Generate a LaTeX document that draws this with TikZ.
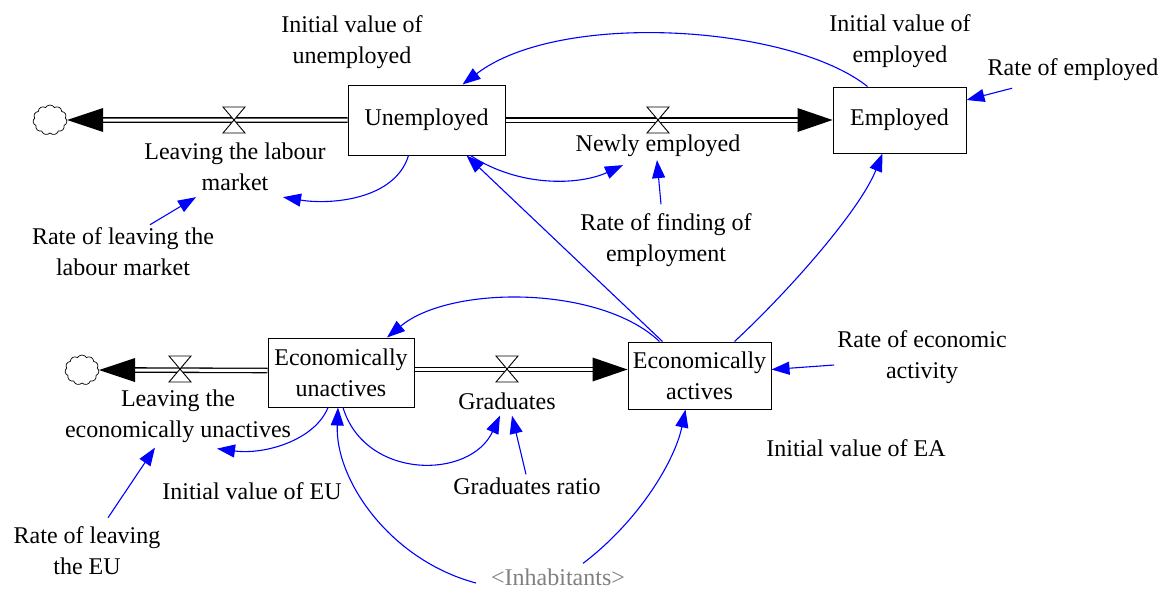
\documentclass[tikz,border=0pt]{standalone}
\usepackage{fontspec}
\setmainfont{Liberation Serif}
\usetikzlibrary{arrows.meta,shapes.symbols}

\tikzset{
  valve/.pic={\draw[fill=white, line width=0.9pt] (-11,-13)--(11,-13)--(-11,13)--(11,13)--cycle;},
}

\begin{document}
\begin{tikzpicture}[x=1pt,y=-1pt,
  font=\fontsize{24}{31}\selectfont,
  stock/.style={draw, line width=1pt, rectangle, inner sep=0pt, align=center},
  lbl/.style={align=center, inner sep=3pt},
  sink/.style={cloud, draw, cloud puffs=11, cloud puff arc=120, minimum width=34pt, minimum height=30pt, inner sep=0pt, line width=0.7pt},
  pipe/.style={double=white, double distance=3pt, line width=1.3pt},
  link/.style={blue, line width=1.1pt, -{Triangle[length=18pt,width=13pt]}}]
  \useasboundingbox (0,0) rectangle (1172,592);

  % stocks
  \node[stock, minimum width=157pt, minimum height=70pt] (unemp) at (426.5,120) {Unemployed};
  \node[stock, minimum width=133pt, minimum height=66pt] (emp) at (899.5,120) {Employed};
  \node[stock, minimum width=146pt, minimum height=69pt] (unact) at (341,372.5) {Economically\\unactives};
  \node[stock, minimum width=143pt, minimum height=67pt] (act) at (699.5,375.5) {Economically\\actives};

  \node[sink] (sinkU) at (50,120) {};
  \node[sink] (sinkA) at (82,370) {};

  % flows
  \draw[pipe] (unemp.west) -- ([xshift=36pt]sinkU.east);
  \fill (sinkU.east) -- ++(36,-12) -- ++(0,24) -- cycle;
  \draw[pipe] (unemp.east) -- ([xshift=-34pt]emp.west);
  \fill (emp.west) -- ++(-35,-12) -- ++(0,24) -- cycle;
  \draw[pipe] ([yshift=2pt]unact.west) -- ([xshift=36pt]sinkA.east);
  \fill (sinkA.east) -- ++(36,-12) -- ++(0,24) -- cycle;
  \coordinate (tipA) at ([yshift=6pt]act.west);
  \draw[pipe] (unact.east |- tipA) -- ([xshift=-34pt]tipA);
  \fill (tipA) -- ++(-35,-12) -- ++(0,24) -- cycle;

  \pic at (234,120) {valve};
  \pic at (658,120) {valve};
  \pic at (180,369) {valve};
  \pic at (507,369) {valve};

  \node[lbl] (leavelab) at (235,167) {Leaving the labour\\market};
  \node[lbl] (newemp) at (658,146) {Newly employed};
  \node[lbl] (leaveeu) at (178,416) {Leaving the\\economically unactives};
  \node[lbl] (grad) at (507,401) {Graduates};

  % auxiliaries
  \node[lbl] (initu) at (352,42) {Initial value of\\unemployed};
  \node[lbl] (inite) at (900,41) {Initial value of\\employed};
  \node[lbl] (rateemp) at (1073,70) {Rate of employed};
  \node[lbl] (rateleave) at (123,252) {Rate of leaving the\\labour market};
  \node[lbl] (ratefind) at (666,240) {Rate of finding of\\employment};
  \node[lbl] (rateact) at (922,357) {Rate of economic\\activity};
  \node[lbl] (initea) at (856,448) {Initial value of EA};
  \node[lbl] (initeu) at (252,491) {Initial value of EU};
  \node[lbl] (gradratio) at (527,486) {Graduates ratio};
  \node[lbl] (rateeu) at (87,551) {Rate of leaving\\the EU};
  \node[lbl, gray] (inhab) at (558,577) {<Inhabitants>};

  % links
  \draw[link] ([xshift=-32pt]emp.north) .. controls (790,25) and (560,10) .. ([xshift=36pt]unemp.north);
  \draw[link] ([xshift=-61pt,yshift=-4pt]rateemp.south) -- ([yshift=20pt]emp.east);
  \draw[link] ([xshift=-18pt]unemp.south) .. controls (395,200) and (330,205) .. ([xshift=48pt,yshift=-3pt]leavelab.south);
  \draw[link] ([xshift=44pt]unemp.south) .. controls (520,188) and (580,185) .. ([xshift=-35pt,yshift=-5pt]newemp.south);
  \draw[link] ([xshift=-5pt,yshift=6pt]ratefind.north) -- ([xshift=-1pt]newemp.south);
  \draw[link] ([xshift=27pt]rateleave.north) -- ([xshift=-39pt,yshift=-3pt]leavelab.south);
  \draw[link] ([xshift=-37pt]act.north) -- ([xshift=40pt]unemp.south);
  \draw[link] ([xshift=35pt]act.north) .. controls (790,290) and (860,210) .. ([xshift=-17pt]emp.south);
  \draw[link] ([xshift=-40pt]act.north) .. controls (600,285) and (450,285) .. ([xshift=46pt]unact.north);
  \draw[link] ([yshift=-8pt]rateact.west) -- ([yshift=6pt]act.east);
  \draw[link] ([xshift=-13pt]unact.south) .. controls (315,440) and (265,455) .. ([xshift=39pt,yshift=-3pt]leaveeu.south);
  \draw[link] ([xshift=2pt]unact.south) .. controls (365,480) and (470,480) .. ([xshift=-7pt,yshift=-3pt]grad.south);
  \draw[link] ([xshift=-1pt]gradratio.north) -- ([xshift=5pt,yshift=-3pt]grad.south);
  \draw[link] ([xshift=21pt,yshift=6pt]rateeu.north) -- ([xshift=-23pt,yshift=-2pt]leaveeu.south);
  \draw[link] ([xshift=-12pt,yshift=-6pt]inhab.west) .. controls (390,560) and (335,480) .. ([xshift=-3pt]unact.south);
  \draw[link] ([xshift=25pt,yshift=2pt]inhab.north) .. controls (640,520) and (675,460) .. ([xshift=-14pt]act.south);
\end{tikzpicture}
\end{document}
